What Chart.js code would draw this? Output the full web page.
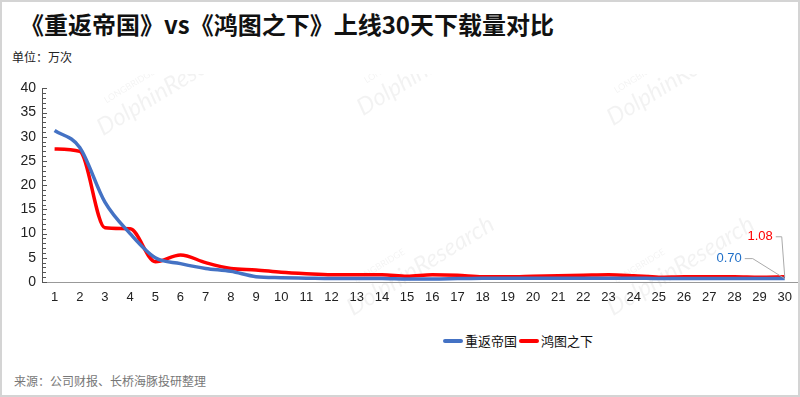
<!DOCTYPE html>
<html>
<head>
<meta charset="utf-8">
<script src="https://cdn.jsdelivr.net/npm/chart.js@4.4.1/dist/chart.umd.min.js"></script>
<style>
  html, body { margin: 0; padding: 0; background: #fff; }
  body { width: 800px; height: 397px; position: relative; overflow: hidden; font-family: "Noto Sans CJK SC", "Noto Sans", sans-serif; }
  .frame { position: absolute; left: 0; top: 0; width: 796px; height: 393px; border: 2px solid #d4d4d4; pointer-events: none; }
  #title { position: absolute; left: 20px; top: 6px; font-size: 24px; font-weight: bold; color: #111; }
  #unit { position: absolute; left: 12px; top: 48px; font-size: 12px; color: #222; }
  #legend { position: absolute; left: 443px; top: 331px; font-size: 13px; color: #111; display: flex; align-items: center; }
  #legend .sw { display: inline-block; width: 20px; height: 4px; border-radius: 2px; margin-right: 2px; }
  #legend span.t { margin-right: 2px; }
  #source { position: absolute; left: 14px; top: 372px; font-size: 12px; color: #777; }
  #box { position: absolute; left: 0; top: 74px; width: 800px; height: 244px; }
</style>
</head>
<body>
<div id="title">《重返帝国》vs《鸿图之下》上线30天下载量对比</div>
<div id="unit">单位：万次</div>
<div id="box"><canvas id="c"></canvas></div>
<div id="legend">
  <span class="sw" style="background:#4472c4"></span><span class="t">重返帝国</span>
  <span class="sw" style="background:#ff0000"></span><span class="t">鸿图之下</span>
</div>
<div id="source">来源：公司财报、长桥海豚投研整理</div>
<div class="frame"></div>
<script>
// 上线天数
const days = Array.from({ length: 30 }, (_, i) => String(i + 1));
// 重返帝国 下载量（万次）
const empireValues = [31.3, 27.8, 16.5, 10.0, 5.0, 3.8, 2.8, 2.2, 1.1, 0.9,
                      0.8, 0.7, 0.7, 0.7, 0.6, 0.6, 0.7, 0.8, 0.8, 0.8,
                      0.8, 0.8, 0.8, 0.8, 0.7, 0.7, 0.7, 0.7, 0.7, 0.70];
// 鸿图之下 下载量（万次）
const hongtuValues = [27.5, 27.0, 11.2, 11.0, 4.2, 5.6, 4.0, 2.8, 2.5, 2.0,
                      1.7, 1.5, 1.5, 1.5, 1.2, 1.5, 1.4, 1.1, 1.1, 1.2,
                      1.3, 1.4, 1.5, 1.3, 1.0, 1.1, 1.1, 1.1, 1.0, 1.08];
const yTicks = [0, 5, 10, 15, 20, 25, 30, 35, 40];
const endLabels = ["0.70", "1.08"];

// 水印
const watermark = {
  id: "watermark",
  beforeDraw(chart) {
    const ctx = chart.ctx;
    const spots = [[150, 24], [410, 4], [660, 14], [400, 204], [660, 204]];
    ctx.save();
    spots.forEach(([x, y]) => {
      ctx.save();
      ctx.translate(x, y);
      ctx.rotate(-0.55);
      ctx.fillStyle = "rgba(0,0,0,0.05)";
      ctx.font = "9px Lato";
      ctx.fillText("LONGBRIDGE", -40, -18);
      ctx.font = "italic 24px Lato";
      ctx.fillText("DolphinResearch", -60, 8);
      ctx.restore();
    });
    ctx.restore();
  }
};

// y 轴小刻度（朝内）
const minorTicks = {
  id: "minorTicks",
  afterDraw(chart) {
    const y = chart.scales.y, ctx = chart.ctx;
    const x0 = chart.chartArea.left;
    ctx.save();
    ctx.strokeStyle = "#555";
    ctx.lineWidth = 1;
    for (let v = 0; v <= 40; v++) {
      const py = Math.round(y.getPixelForValue(v)) + 0.5;
      ctx.beginPath();
      ctx.moveTo(x0, py);
      ctx.lineTo(x0 + (v % 5 === 0 ? 5 : 4), py);
      ctx.stroke();
    }
    ctx.restore();
  }
};

// 末端数据标签 + 引线
const lastLabels = {
  id: "lastLabels",
  afterDatasetsDraw(chart) {
    const ctx = chart.ctx;
    // [标签右端 dx, dy, 折点 dx]
    const offs = [[-43, -20, -32], [-12, -40, -3]];
    ctx.save();
    chart.data.datasets.forEach((ds, i) => {
      const pt = chart.getDatasetMeta(i).data[ds.data.length - 1];
      const [dx, dy, kx] = offs[i];
      const lx = pt.x + dx, ly = pt.y + dy;
      ctx.strokeStyle = "#aaa";
      ctx.lineWidth = 1;
      ctx.beginPath();
      ctx.moveTo(lx + 3, ly);
      ctx.lineTo(pt.x + kx, ly);
      ctx.lineTo(pt.x, pt.y);
      ctx.stroke();
      ctx.fillStyle = i === 0 ? "#1f6fc8" : "#ff0000";
      ctx.font = "13px 'Liberation Sans', sans-serif";
      ctx.textAlign = "right";
      ctx.textBaseline = "middle";
      ctx.fillText(endLabels[i], lx, ly);
    });
    ctx.restore();
  }
};

new Chart(document.getElementById("c"), {
  type: "line",
  data: {
    labels: days,
    datasets: [
      { label: "重返帝国", data: empireValues, borderColor: "#4472c4", borderWidth: 3.5,
        pointRadius: 0, cubicInterpolationMode: "monotone" },
      { label: "鸿图之下", data: hongtuValues, borderColor: "#ff0000", borderWidth: 3.5,
        pointRadius: 0, cubicInterpolationMode: "monotone" }
    ]
  },
  options: {
    responsive: true,
    maintainAspectRatio: false,
    animation: false,
    layout: { padding: { top: 4, right: 2, left: 0, bottom: 0 } },
    plugins: { legend: { display: false }, tooltip: { enabled: false } },
    scales: {
      x: {
        offset: true,
        grid: { display: false, drawTicks: false },
        border: { color: "#999", width: 1 },
        ticks: { color: "#222", font: { size: 13, family: "'Liberation Sans', sans-serif" }, padding: 8, maxRotation: 0, autoSkip: false },
        afterFit(s) { s.height = 36; }
      },
      y: {
        min: 0, max: 40,
        afterBuildTicks(s) { s.ticks = yTicks.map(v => ({ value: v })); },
        grid: { display: false, drawTicks: false },
        border: { color: "#555", width: 1 },
        ticks: { color: "#222", font: { size: 14, family: "'Liberation Sans', sans-serif" }, padding: 6 },
        afterFit(s) { s.width = 42; }
      }
    }
  },
  plugins: [watermark, minorTicks, lastLabels]
});
</script>
</body>
</html>
